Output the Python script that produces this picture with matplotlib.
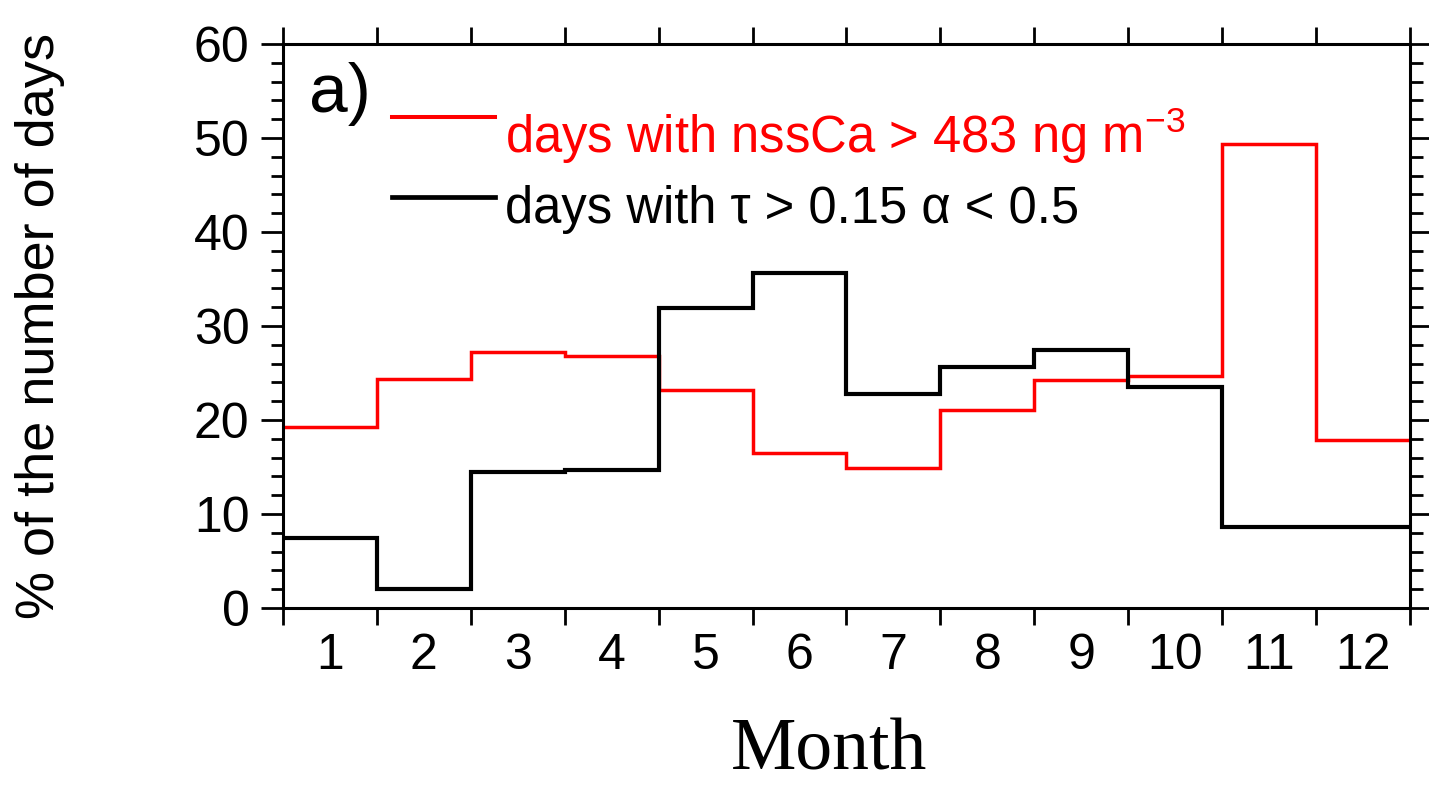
import numpy as np
import matplotlib.pyplot as plt
from matplotlib.lines import Line2D
from matplotlib.ticker import MultipleLocator, FixedLocator, NullFormatter

plt.rcParams['font.family'] = ['Liberation Sans', 'DejaVu Sans']
plt.rcParams['mathtext.fontset'] = 'custom'
plt.rcParams['mathtext.rm'] = 'Liberation Sans'

# monthly percentages
months = np.arange(1, 13)
nssca_days = [19.3, 24.4, 27.2, 26.8, 23.2, 16.5, 14.9, 21.1, 24.3, 24.7, 49.4, 17.9]
aod_days = [7.4, 2.0, 14.5, 14.7, 31.9, 35.6, 22.8, 25.6, 27.4, 23.5, 8.6, 8.6]
labels = ['days with nssCa > 483 ng m$^{-3}$', 'days with τ > 0.15 α < 0.5']
colors = ['#ff0000', 'black']
widths = [2.5, 3.0]

edges = np.arange(0.5, 13.5, 1.0)

fig = plt.figure(figsize=(14.29, 7.87), dpi=100)
ax = fig.add_axes([0.198, 0.2275, 0.7887, 0.7165])

ax.stairs(nssca_days, edges, baseline=None, color=colors[0], lw=widths[0])
ax.stairs(aod_days, edges, baseline=None, color=colors[1], lw=widths[1])

ax.set_xlim(0.5, 12.5)
ax.set_ylim(0, 60)

# x: ticks on the month boundaries, labels centred in each month
ax.xaxis.set_major_locator(FixedLocator(edges))
ax.xaxis.set_major_formatter(NullFormatter())
ax.xaxis.set_minor_locator(FixedLocator(months))
ax.set_xticklabels([str(m) for m in months], minor=True)
ax.tick_params(axis='x', which='major', direction='out', length=12, width=2,
               top=True, bottom=True)
ax.tick_params(axis='x', which='minor', length=0, labelsize=36, pad=18)

ax.yaxis.set_major_locator(MultipleLocator(10))
ax.yaxis.set_minor_locator(MultipleLocator(2))
ax.tick_params(axis='y', which='major', direction='out', length=16, width=2,
               left=True, right=True, labelsize=36, pad=8)
ax.tick_params(axis='y', which='minor', direction='out', length=9, width=2,
               left=True, right=True)

for s in ax.spines.values():
    s.set_linewidth(2.2)

ax.set_ylabel('% of the number of days', fontsize=39, labelpad=93)
ax.set_xlabel('Month', fontsize=53, family='Liberation Serif')
ax.xaxis.set_label_coords(0.4845, -0.314)
ax.xaxis.label.set_verticalalignment('bottom')

ax.text(0.023, 0.968, 'a)', transform=ax.transAxes, fontsize=50, va='top')

# hand-placed legend (text sits a little below the red sample line)
line_y = [0.8706, 0.7287]
text_y = [0.8067, 0.6826]
for lab, col, lw, ly, ty in zip(labels, colors, widths, line_y, text_y):
    ax.add_line(Line2D([0.0967, 0.188], [ly, ly], transform=ax.transAxes,
                       color=col, lw=lw + 0.4))
    ax.text(0.197, ty, lab, transform=ax.transAxes, color=col, fontsize=36.5,
            va='baseline')

fig.savefig('out.png', dpi=100)
